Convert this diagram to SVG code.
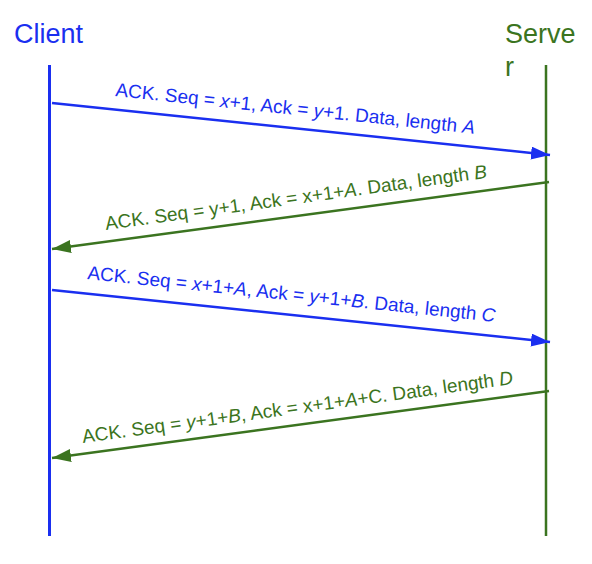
<svg xmlns="http://www.w3.org/2000/svg" width="592" height="564" viewBox="0 0 592 564">
<style>
text{font-family:"Liberation Sans",Arial,sans-serif}
.t{font-size:27px}
.l{font-size:19px}
.b{fill:#1a2ff0}
.g{fill:#3b7420}
.i{font-style:italic}
.lb{stroke:#1a2ff0;stroke-width:2.5;fill:none}
.lg{stroke:#3b7420;stroke-width:2.5;fill:none}
</style>
<defs>
<marker id="ab" markerUnits="userSpaceOnUse" markerWidth="20" markerHeight="14" refX="19" refY="6.5" orient="auto"><path d="M0,0 L19,6.5 L0,13 Z" fill="#1a2ff0"/></marker>
<marker id="ag" markerUnits="userSpaceOnUse" markerWidth="20" markerHeight="14" refX="19" refY="6.5" orient="auto"><path d="M0,0 L19,6.5 L0,13 Z" fill="#3b7420"/></marker>
</defs>
<g id="client">
<text class="t b" x="14" y="43">Client</text>
<line x1="49.5" y1="65" x2="49.5" y2="536" stroke="#1a2ff0" stroke-width="3"/>
</g>
<g id="server">
<text class="t g" x="505" y="43">Serve</text>
<text class="t g" x="505" y="76">r</text>
<line x1="546" y1="65" x2="546" y2="536" stroke="#3b7420" stroke-width="2.5"/>
</g>
<g id="connectors">
<line class="lb" x1="52" y1="103" x2="550" y2="155" marker-end="url(#ab)"/>
<line class="lg" x1="549" y1="182" x2="52" y2="249" marker-end="url(#ag)"/>
<line class="lb" x1="52" y1="290" x2="550" y2="342" marker-end="url(#ab)"/>
<line class="lg" x1="549" y1="391" x2="52" y2="458" marker-end="url(#ag)"/>
<text class="l b" transform="translate(115,96) rotate(6)">ACK. Seq = <tspan class="i">x</tspan>+1, Ack = <tspan class="i">y</tspan>+1. Data, length <tspan class="i">A</tspan></text>
<text class="l g" transform="translate(106,230) rotate(-7.8)">ACK. Seq = y+1, Ack = x+1+<tspan class="i">A</tspan>. Data, length <tspan class="i">B</tspan></text>
<text class="l b" transform="translate(87,279) rotate(6)">ACK. Seq = <tspan class="i">x</tspan>+1+<tspan class="i">A</tspan>, Ack = <tspan class="i">y</tspan>+1+<tspan class="i">B</tspan>. Data, length <tspan class="i">C</tspan></text>
<text class="l g" transform="translate(83,443) rotate(-7.8)">ACK. Seq = <tspan class="i">y</tspan>+1+<tspan class="i">B</tspan>, Ack = x+1+<tspan class="i">A</tspan>+C. Data, length <tspan class="i">D</tspan></text>
</g>
</svg>
